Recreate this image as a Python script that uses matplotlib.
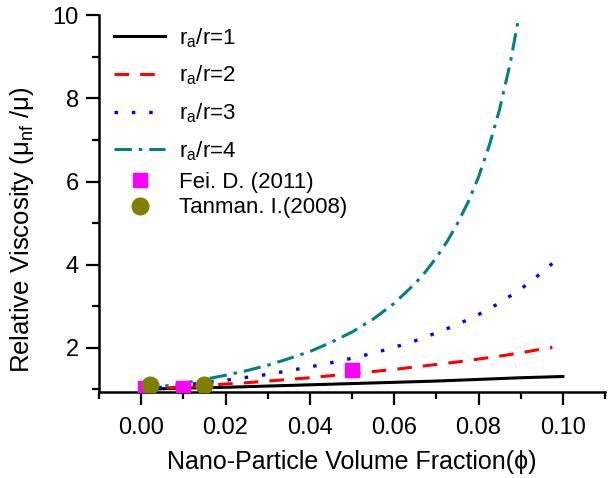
import numpy as np
import matplotlib
matplotlib.use("Agg")
import matplotlib.pyplot as plt
from matplotlib.ticker import MultipleLocator, FormatStrFormatter

plt.rcParams['font.family'] = ['Liberation Sans', 'DejaVu Sans']
plt.rcParams['lines.scale_dashes'] = False

# relative viscosity curves for each aggregate radius ratio
phi_1 = [0.00, 0.01, 0.02, 0.03, 0.04, 0.05, 0.06, 0.07, 0.08, 0.09, 0.10]
visc_1 = [1.00, 1.03, 1.05, 1.08, 1.11, 1.14, 1.17, 1.20, 1.24, 1.28, 1.31]

phi_23 = [0.000, 0.005, 0.010, 0.015, 0.020, 0.025, 0.030, 0.035, 0.040, 0.045, 0.050,
          0.055, 0.060, 0.065, 0.070, 0.075, 0.080, 0.085, 0.090, 0.095, 0.0975]
visc_2 = [1.00, 1.03, 1.06, 1.09, 1.13, 1.16, 1.20, 1.24, 1.28, 1.33, 1.38,
          1.43, 1.48, 1.54, 1.60, 1.66, 1.73, 1.80, 1.88, 1.97, 2.01]
visc_3 = [1.00, 1.05, 1.10, 1.16, 1.22, 1.29, 1.36, 1.45, 1.54, 1.64, 1.75,
          1.87, 2.01, 2.17, 2.36, 2.56, 2.80, 3.08, 3.41, 3.81, 4.03]

phi_4 = [0.0, 0.005, 0.01, 0.015, 0.02, 0.025, 0.03, 0.035, 0.04, 0.045, 0.05, 0.055,
         0.06, 0.065, 0.0675, 0.07, 0.0725, 0.075, 0.0775, 0.08, 0.0825, 0.085, 0.0875, 0.0895]
visc_4 = [1.00, 1.07, 1.15, 1.24, 1.34, 1.45, 1.58, 1.74, 1.91, 2.13, 2.38, 2.69,
          3.07, 3.55, 3.84, 4.17, 4.55, 4.99, 5.50, 6.11, 6.85, 7.74, 8.84, 9.93]

# experimental data
fei_phi = [0.001, 0.010, 0.050]
fei_visc = [1.04, 1.04, 1.46]
tan_phi = [0.002, 0.015]
tan_visc = [1.10, 1.10]

fig = plt.figure(figsize=(6.12, 4.78), dpi=100)
ax = fig.add_axes([0.1618, 0.1793, 0.8268, 0.7887])

l1, = ax.plot(phi_1, visc_1, color="black", lw=2.2, label=r"r$_\mathregular{a}$/r=1", zorder=2)
l2, = ax.plot(phi_23, visc_2, color="red", lw=2.2, dashes=(10.5, 8), label=r"r$_\mathregular{a}$/r=2", zorder=2)
l3, = ax.plot(phi_23, visc_3, color="blue", lw=2.4, dashes=(2.5, 10), label=r"r$_\mathregular{a}$/r=3", zorder=2)
l4, = ax.plot(phi_4, visc_4, color="teal", lw=2.2, dashes=(12.5, 5, 2.5, 5), label=r"r$_\mathregular{a}$/r=4", zorder=2)
m1, = ax.plot(fei_phi, fei_visc, "s", color="magenta", ms=10, ls="none", label="Fei. D. (2011)", zorder=3)
m2, = ax.plot(tan_phi, tan_visc, "o", color="olive", ms=12, ls="none", label="Tanman. I.(2008)", zorder=4)

ax.set_xlim(-0.01, 0.11)
ax.set_ylim(0.93, 10)
ax.xaxis.set_major_locator(MultipleLocator(0.02))
ax.xaxis.set_minor_locator(MultipleLocator(0.01))
ax.xaxis.set_major_formatter(FormatStrFormatter("%.2f"))
ax.yaxis.set_major_locator(MultipleLocator(2))
ax.yaxis.set_minor_locator(MultipleLocator(1))

for s in ["top", "right"]:
    ax.spines[s].set_visible(False)
for s in ["left", "bottom"]:
    ax.spines[s].set_linewidth(1.8)
ax.tick_params(which="major", direction="out", length=9.5, width=1.6, labelsize=17, pad=5)
ax.tick_params(which="minor", direction="out", length=5, width=1.6)
ax.tick_params(axis="x", which="major", pad=8)

ax.set_xlabel("Nano-Particle Volume Fraction(\u03d5)", fontsize=18, labelpad=8)
ax.set_ylabel("Relative Viscosity (\u03bc$_\\mathregular{nf}$ /\u03bc)", fontsize=18.5)
ax.yaxis.set_label_coords(-0.125, 0.43)

# model curves and measurements go in two separate legend blocks
leg_lines = ax.legend(handles=[l1, l2, l3, l4], loc="center left", bbox_to_anchor=(0.03, 0.79),
                      frameon=False, fontsize=16, handlelength=2.3, handletextpad=0.6,
                      labelspacing=0.63, borderpad=0, borderaxespad=0)
ax.add_artist(leg_lines)
ax.legend(handles=[m1, m2], loc="center left", bbox_to_anchor=(0.03, 0.523),
          frameon=False, fontsize=16, handlelength=2.3, handletextpad=0.6,
          labelspacing=0.2, borderpad=0, borderaxespad=0, numpoints=1)

fig.savefig("out.png", dpi=100)
